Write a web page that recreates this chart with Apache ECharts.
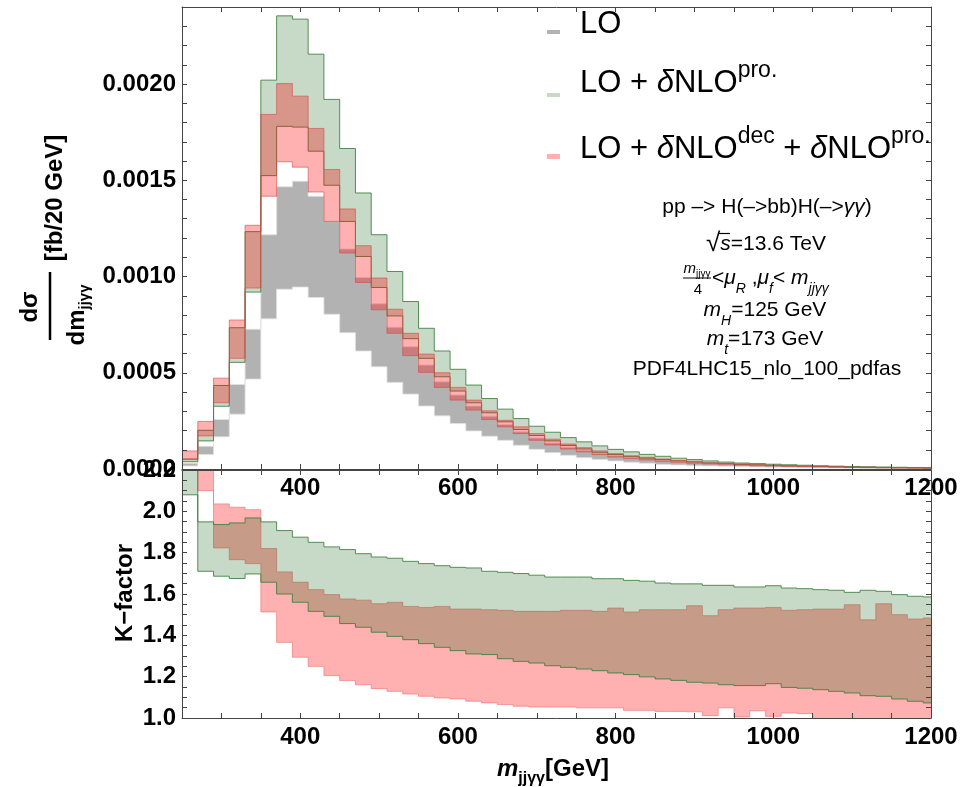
<!DOCTYPE html>
<html>
<head>
<meta charset="utf-8">
<script src="https://cdn.jsdelivr.net/npm/echarts@6/dist/echarts.min.js"></script>
<style>html,body{margin:0;padding:0;background:#fff}#c{width:962px;height:787px}</style>
</head>
<body>
<div id="c"></div>
<script>
// ---- data ----
const binEdges = [250,270,290,310,330,350,370,390,410,430,450,470,490,510,530,550,570,590,610,630,650,670,690,710,730,750,770,790,810,830,850,870,890,910,930,950,970,990,1010,1030,1050,1070,1090,1110,1130,1150,1170,1190,1210];

// top panel: d sigma / d m  [fb / 20 GeV]
const loLow  = [0.000016,0.000075,0.000167,0.000285,0.000467,0.000780,0.000934,0.000945,0.000891,0.000804,0.000708,0.000613,0.000531,0.000450,0.000389,0.000327,0.000276,0.000236,0.000198,0.000170,0.000149,0.000123,0.000102,0.000085,0.000071,0.000059,0.000050,0.000042,0.000035,0.000030,0.000024,0.000021,0.000017,0.000016,0.000014,0.000012,0.000010,0.0000090,0.0000080,0.0000070,0.0000060,0.0000050,0.0000045,0.0000040,0.0000035,0.0000030,0.0000027,0.0000024];
const loHigh = [0.000030,0.000118,0.000257,0.000439,0.000726,0.001217,0.001466,0.001495,0.001417,0.001286,0.001143,0.000995,0.000858,0.000736,0.000635,0.000540,0.000453,0.000384,0.000327,0.000274,0.000231,0.000193,0.000161,0.000135,0.000113,0.000097,0.000082,0.000069,0.000059,0.000052,0.000045,0.000038,0.000033,0.000028,0.000024,0.000022,0.000019,0.000017,0.000015,0.000013,0.000011,0.0000097,0.0000085,0.0000074,0.0000065,0.0000057,0.0000050,0.0000044];
const proLow  = [0.000038,0.000146,0.000326,0.000554,0.000919,0.001524,0.001780,0.001776,0.001651,0.001474,0.001286,0.001104,0.000943,0.000795,0.000677,0.000575,0.000479,0.000405,0.000344,0.000292,0.000245,0.000205,0.000174,0.000146,0.000122,0.000104,0.000087,0.000075,0.000064,0.000056,0.000049,0.000042,0.000036,0.000031,0.000028,0.000024,0.000021,0.000019,0.0000165,0.0000145,0.0000127,0.000011,0.0000096,0.0000084,0.0000073,0.0000064,0.0000056,0.0000049];
const proHigh = [0.000052,0.000201,0.000434,0.000734,0.001233,0.002020,0.002354,0.002337,0.002155,0.001920,0.001665,0.001434,0.001217,0.001026,0.000870,0.000731,0.000613,0.000518,0.000436,0.000366,0.000311,0.000262,0.000222,0.000191,0.000163,0.000141,0.000120,0.000102,0.000089,0.000076,0.000066,0.000056,0.000049,0.000042,0.000036,0.000031,0.000028,0.000025,0.000022,0.0000195,0.000017,0.000015,0.0000133,0.0000117,0.0000103,0.0000090,0.0000079,0.0000070];
const decLow  = [0.000049,0.000172,0.000344,0.000575,0.000940,0.001417,0.001596,0.001568,0.001439,0.001286,0.001122,0.000969,0.000827,0.000705,0.000589,0.000502,0.000424,0.000358,0.000306,0.000257,0.000219,0.000184,0.000149,0.000125,0.000104,0.000089,0.000075,0.000062,0.000054,0.000047,0.000040,0.000035,0.000030,0.000026,0.000023,0.000020,0.000017,0.000015,0.0000135,0.000012,0.0000105,0.0000092,0.0000081,0.0000071,0.0000062,0.0000054,0.0000048,0.0000042];
const decHigh = [0.000094,0.000247,0.000472,0.000774,0.001266,0.001842,0.002002,0.001937,0.001769,0.001556,0.001351,0.001160,0.000992,0.000830,0.000705,0.000597,0.000500,0.000424,0.000358,0.000302,0.000253,0.000219,0.000184,0.000155,0.000130,0.000111,0.000094,0.000080,0.000069,0.000061,0.000052,0.000045,0.000040,0.000033,0.000030,0.000026,0.000023,0.000020,0.0000175,0.0000155,0.0000136,0.000012,0.0000106,0.0000092,0.0000083,0.0000072,0.0000063,0.0000056];

// bottom panel: K-factor
const kProLow  = [2.08,1.710,1.686,1.675,1.697,1.657,1.600,1.560,1.516,1.492,1.457,1.439,1.415,1.395,1.379,1.360,1.342,1.326,1.310,1.307,1.287,1.274,1.266,1.253,1.245,1.237,1.229,1.218,1.210,1.199,1.189,1.182,1.173,1.169,1.161,1.157,1.157,1.166,1.148,1.144,1.137,1.129,1.121,1.108,1.105,1.092,1.081,1.073];
const kProHigh = [2.40,1.949,1.936,1.944,1.968,1.949,1.907,1.875,1.850,1.828,1.815,1.795,1.779,1.773,1.758,1.747,1.737,1.729,1.726,1.710,1.705,1.699,1.691,1.682,1.682,1.682,1.674,1.674,1.666,1.662,1.653,1.649,1.649,1.642,1.642,1.634,1.634,1.640,1.629,1.626,1.621,1.618,1.608,1.618,1.613,1.597,1.589,1.586];
const kDecLow  = [2.30,2.10,1.823,1.766,1.747,1.513,1.366,1.294,1.250,1.205,1.181,1.161,1.142,1.129,1.116,1.105,1.097,1.092,1.081,1.073,1.065,1.057,1.053,1.053,1.053,1.049,1.049,1.049,1.037,1.037,1.032,1.032,1.030,1.011,1.049,1.005,1.035,1.008,1.024,1.021,0.99,0.99,0.98,0.98,0.97,0.97,0.96,0.96];
const kDecHigh = [2.60,2.40,2.036,2.020,2.008,1.820,1.707,1.657,1.621,1.597,1.576,1.570,1.553,1.560,1.540,1.535,1.540,1.527,1.527,1.524,1.521,1.516,1.516,1.516,1.521,1.521,1.516,1.532,1.513,1.524,1.524,1.524,1.543,1.495,1.524,1.532,1.532,1.535,1.521,1.524,1.527,1.527,1.548,1.475,1.553,1.500,1.479,1.484];

// tick labels
const xTickLabels = ['400','600','800','1000','1200'];
const yTopTickLabels = ['0.0000','0.0005','0.0010','0.0015','0.0020'];
const kTickLabels = ['1.0','1.2','1.4','1.6','1.8','2.0','2.2'];

// ---- styling ----
const FONT = 'Liberation Sans, Arial, sans-serif';
const FILL_LO = 'rgba(0,0,0,0.30)';
const FILL_PRO = 'rgba(0,90,5,0.225)';
const FILL_DEC = 'rgba(255,0,0,0.31)';
const AX = '#444';

function bandSeries(xi, yi, lo, hi, fill, stroke, z) {
  return {
    type: 'custom', xAxisIndex: xi, yAxisIndex: yi, clip: true, silent: true, z: z,
    data: lo.map((l, i) => [binEdges[i], binEdges[i + 1], l, hi[i]]),
    encode: { x: [0, 1], y: [2, 3] },
    renderItem: function (params, api) {
      if (params.dataIndex !== 0) return null;
      const pts = [];
      for (let i = 0; i < lo.length; i++) {
        pts.push(api.coord([binEdges[i], hi[i]]));
        pts.push(api.coord([binEdges[i + 1], hi[i]]));
      }
      for (let i = lo.length - 1; i >= 0; i--) {
        pts.push(api.coord([binEdges[i + 1], lo[i]]));
        pts.push(api.coord([binEdges[i], lo[i]]));
      }
      return { type: 'polygon', shape: { points: pts }, style: { fill: fill, stroke: stroke, lineWidth: 1 } };
    }
  };
}

const labelStyle = { color: '#000', fontSize: 24, fontWeight: 'bold', fontFamily: FONT };
function xAxisDef(grid, pos, showLabels) {
  return {
    type: 'value', gridIndex: grid, position: pos, min: 250, max: 1200, interval: 50, z: 5,
    axisLine: { show: true, onZero: false, lineStyle: { color: AX, width: 1 } },
    axisTick: { show: true, inside: true, length: 5, lineStyle: { color: AX } },
    splitLine: { show: false },
    axisLabel: Object.assign({ show: showLabels, margin: 7, showMaxLabel: true, showMinLabel: true,
      formatter: v => { const s = String(Math.round(v)); return xTickLabels.includes(s) ? s : ''; } }, labelStyle)
  };
}
function yAxisDef(grid, pos, min, max, interval, showLabels, fmt) {
  return {
    type: 'value', gridIndex: grid, position: pos, min: min, max: max, interval: interval, z: 5,
    axisLine: { show: true, onZero: false, lineStyle: { color: AX, width: 1 } },
    axisTick: { show: true, inside: true, length: 5, lineStyle: { color: AX } },
    splitLine: { show: false },
    axisLabel: Object.assign({ show: showLabels, margin: 6, showMaxLabel: true, showMinLabel: true, formatter: fmt }, labelStyle)
  };
}
const fmtTop = v => { const s = v.toFixed(4); return yTopTickLabels.includes(s) ? s : ''; };
const fmtK = v => { const t = kTickLabels.find(t => Math.abs(parseFloat(t) - v) < 1e-6); return t || ''; };

const chart = echarts.init(document.getElementById('c'), null, { renderer: 'canvas' });

const txt = (o) => Object.assign({ type: 'text', z: 100 }, o);

chart.setOption({
  animation: false,
  backgroundColor: '#fff',
  grid: [
    { left: 182, top: 7, width: 749, height: 462, containLabel: false },
    { left: 182, top: 470, width: 749, height: 248, containLabel: false }
  ],
  xAxis: [
    xAxisDef(0, 'bottom', true),
    xAxisDef(0, 'top', false),
    xAxisDef(1, 'bottom', true),
    xAxisDef(1, 'top', false)
  ],
  yAxis: [
    yAxisDef(0, 'left', 0, 0.0024, 0.0001, true, fmtTop),
    yAxisDef(0, 'right', 0, 0.0024, 0.0001, false, fmtTop),
    yAxisDef(1, 'left', 1.0, 2.2, 0.05, true, fmtK),
    yAxisDef(1, 'right', 1.0, 2.2, 0.05, false, fmtK)
  ],
  series: [
    bandSeries(0, 0, loLow, loHigh, FILL_LO, 'rgba(225,225,225,0.8)', 2),
    bandSeries(0, 0, proLow, proHigh, FILL_PRO, 'rgba(60,125,60,0.85)', 3),
    bandSeries(0, 0, decLow, decHigh, FILL_DEC, 'rgba(215,70,70,0.6)', 4),
    bandSeries(2, 2, kDecLow, kDecHigh, FILL_DEC, 'rgba(235,110,110,0.6)', 2),
    bandSeries(2, 2, kProLow, kProHigh, FILL_PRO, 'rgba(60,125,60,0.85)', 3)
  ],
  graphic: [
    // legend
    { type: 'rect', z: 100, shape: { x: 547, y: 30, width: 13, height: 4 }, style: { fill: FILL_LO } },
    { type: 'rect', z: 100, shape: { x: 547, y: 93, width: 13, height: 4 }, style: { fill: FILL_PRO } },
    { type: 'rect', z: 100, shape: { x: 547, y: 154, width: 13, height: 5 }, style: { fill: FILL_DEC } },
    txt({ x: 580, y: 4, style: { text: '{m|LO}', align: 'left', verticalAlign: 'top',
      rich: { m: { fontSize: 31, fontFamily: FONT, lineHeight: 40, color: '#000' } } } }),
    txt({ x: 580, y: 59, style: { text: '{m|LO + }{i|δ}{m|NLO}{s|pro.}', align: 'left', verticalAlign: 'top',
      rich: { m: { fontSize: 31, fontFamily: FONT, lineHeight: 40, verticalAlign: 'bottom', color: '#000' },
              i: { fontSize: 31, fontFamily: FONT, fontStyle: 'italic', lineHeight: 40, verticalAlign: 'bottom', color: '#000' },
              s: { fontSize: 23, fontFamily: FONT, lineHeight: 22, verticalAlign: 'top', color: '#000' } } } }),
    txt({ x: 580, y: 125, style: { text: '{m|LO + }{i|δ}{m|NLO}{s|dec}{m| + }{i|δ}{m|NLO}{s|pro.}', align: 'left', verticalAlign: 'top',
      rich: { m: { fontSize: 31, fontFamily: FONT, lineHeight: 40, verticalAlign: 'bottom', color: '#000' },
              i: { fontSize: 31, fontFamily: FONT, fontStyle: 'italic', lineHeight: 40, verticalAlign: 'bottom', color: '#000' },
              s: { fontSize: 23, fontFamily: FONT, lineHeight: 22, verticalAlign: 'top', color: '#000' } } } }),
    // annotation block
    txt({ x: 767, y: 207, style: { text: '{n|pp –> H(–>bb)H(–>}{i|γγ}{n|)}', align: 'center', verticalAlign: 'middle',
      rich: { n: { fontSize: 21, fontFamily: FONT, color: '#000' }, i: { fontSize: 21, fontFamily: FONT, fontStyle: 'italic', color: '#000' } } } }),
    txt({ x: 766, y: 244, style: { text: '{r|√}{i|s}{n|=13.6 TeV}', align: 'center', verticalAlign: 'middle',
      rich: { r: { fontSize: 26, fontFamily: FONT, color: '#000' }, n: { fontSize: 21, fontFamily: FONT, color: '#000' }, i: { fontSize: 21, fontFamily: FONT, fontStyle: 'italic', color: '#000' } } } }),
    { type: 'line', z: 100, shape: { x1: 718, y1: 233.5, x2: 730, y2: 233.5 }, style: { stroke: '#000', lineWidth: 1.2 } },
    txt({ x: 697, y: 270, style: { text: '{i|m}{b|jjγγ}', align: 'center', verticalAlign: 'middle',
      rich: { i: { fontSize: 15, fontFamily: FONT, fontStyle: 'italic', lineHeight: 18, verticalAlign: 'top', color: '#000' }, b: { fontSize: 10, fontFamily: FONT, lineHeight: 12, verticalAlign: 'bottom', color: '#000' } } } }),
    { type: 'line', z: 100, shape: { x1: 683, y1: 278, x2: 711, y2: 278 }, style: { stroke: '#000', lineWidth: 1 } },
    txt({ x: 698, y: 290, style: { text: '4', align: 'center', verticalAlign: 'middle', fontSize: 15, fontFamily: FONT, fill: '#000' } }),
    txt({ x: 712, y: 282, style: { text: '{n|<}{i|μ}{b|R}{n| ,}{i|μ}{b|f}{n|< }{i|m}{b|jjγγ}', align: 'left', verticalAlign: 'middle',
      rich: { n: { fontSize: 21, fontFamily: FONT, lineHeight: 28, verticalAlign: 'top', color: '#000' }, i: { fontSize: 21, fontFamily: FONT, fontStyle: 'italic', lineHeight: 28, verticalAlign: 'top', color: '#000' }, b: { fontSize: 14, fontFamily: FONT, fontStyle: 'italic', lineHeight: 16, verticalAlign: 'bottom', color: '#000' } } } }),
    txt({ x: 765, y: 314, style: { text: '{i|m}{b|H}{n|=125 GeV}', align: 'center', verticalAlign: 'middle',
      rich: { n: { fontSize: 21, fontFamily: FONT, lineHeight: 28, verticalAlign: 'top', color: '#000' }, i: { fontSize: 21, fontFamily: FONT, fontStyle: 'italic', lineHeight: 28, verticalAlign: 'top', color: '#000' }, b: { fontSize: 14, fontFamily: FONT, fontStyle: 'italic', lineHeight: 16, verticalAlign: 'bottom', color: '#000' } } } }),
    txt({ x: 765, y: 343, style: { text: '{i|m}{b|t}{n|=173 GeV}', align: 'center', verticalAlign: 'middle',
      rich: { n: { fontSize: 21, fontFamily: FONT, lineHeight: 28, verticalAlign: 'top', color: '#000' }, i: { fontSize: 21, fontFamily: FONT, fontStyle: 'italic', lineHeight: 28, verticalAlign: 'top', color: '#000' }, b: { fontSize: 14, fontFamily: FONT, fontStyle: 'italic', lineHeight: 16, verticalAlign: 'bottom', color: '#000' } } } }),
    txt({ x: 767, y: 369, style: { text: 'PDF4LHC15_nlo_100_pdfas', align: 'center', verticalAlign: 'middle', fontSize: 21, fontFamily: FONT, fill: '#000' } }),
    // y axis title (top)
    txt({ x: 30, y: 307, rotation: Math.PI / 2, style: { text: 'dσ', align: 'center', verticalAlign: 'middle', fontSize: 24, fontWeight: 'bold', fontFamily: FONT, fill: '#000' } }),
    { type: 'line', z: 100, shape: { x1: 50, y1: 272, x2: 50, y2: 340 }, style: { stroke: '#000', lineWidth: 2.5 } },
    txt({ x: 77, y: 315, rotation: Math.PI / 2, style: { text: '{a|dm}{b|jjγγ}', align: 'center', verticalAlign: 'middle',
      rich: { a: { fontSize: 24, fontWeight: 'bold', fontFamily: FONT, lineHeight: 30, color: '#000' }, b: { fontSize: 15, fontWeight: 'bold', fontFamily: FONT, lineHeight: 16, verticalAlign: 'bottom', color: '#000' } } } }),
    txt({ x: 55, y: 198, rotation: Math.PI / 2, style: { text: '[fb/20 GeV]', align: 'center', verticalAlign: 'middle', fontSize: 24, fontWeight: 'bold', fontFamily: FONT, fill: '#000' } }),
    // y axis title (bottom)
    txt({ x: 125, y: 593, rotation: Math.PI / 2, style: { text: 'K−factor', align: 'center', verticalAlign: 'middle', fontSize: 24, fontWeight: 'bold', fontFamily: FONT, fill: '#000' } }),
    // x axis title
    txt({ x: 553, y: 772, style: { text: '{i|m}{b|jjγγ}{a|[GeV]}', align: 'center', verticalAlign: 'middle',
      rich: { i: { fontSize: 24, fontWeight: 'bold', fontStyle: 'italic', fontFamily: FONT, lineHeight: 30, verticalAlign: 'top', color: '#000' },
              b: { fontSize: 16, fontWeight: 'bold', fontFamily: FONT, lineHeight: 18, verticalAlign: 'bottom', color: '#000' },
              a: { fontSize: 24, fontWeight: 'bold', fontFamily: FONT, lineHeight: 30, verticalAlign: 'top', color: '#000' } } } })
  ]
});
</script>
</body>
</html>
